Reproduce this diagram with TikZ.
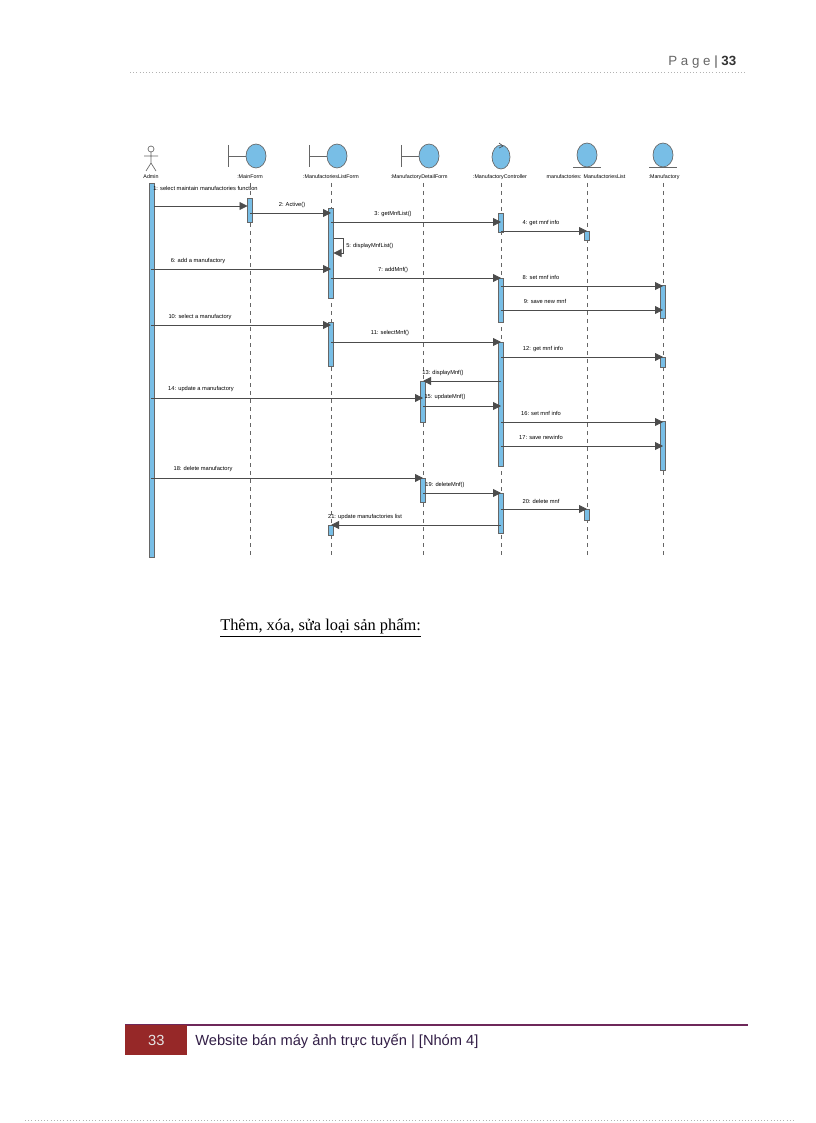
\documentclass[tikz,border=0pt]{standalone}
\usepackage{fontspec}
\setmainfont{Liberation Sans}
\newfontfamily\serif{Liberation Serif}
\usetikzlibrary{arrows.meta}
\definecolor{act}{RGB}{120,190,230}
\definecolor{foot}{RGB}{150,40,40}
\definecolor{fline}{RGB}{110,40,90}
\definecolor{ftext}{RGB}{50,30,70}
\tikzset{
 msg/.style={draw=black!70,line width=0.6pt,-{Triangle[length=6pt,width=6pt]}},
 lbl/.style={font=\fontsize{4.3pt}{5pt}\selectfont,inner sep=0pt,anchor=south},
 actbar/.style={draw=black!60,fill=act,line width=0.4pt},
 life/.style={draw=black!60,dashed,line width=0.5pt},
 headc/.style={draw=black!60,fill=act,line width=0.5pt},
 hname/.style={font=\fontsize{4pt}{5pt}\selectfont,inner sep=0pt}
}
\begin{document}
\begin{tikzpicture}[x=0.75pt,y=-0.75pt]
\useasboundingbox (0,0) rectangle (816,1123);
% header
\node[anchor=east,font=\fontsize{10pt}{12pt}\selectfont,text=black!60] (pg) at (741,62) {P a g e \textcolor{black!70}{|} \textbf{\textcolor{black!80}{33}}};
\draw[black!30,dotted] (130,72) -- (745,72);
% lifelines
\foreach \n/\x in {mf/250,lf/331,df/423,ct/501,ml/587,ma/663}{
 \coordinate (\n top) at (\x,183); \coordinate (\n bot) at (\x,557);
 \draw[life] (\n top) -- (\n bot);}
% heads
\draw[black!60,line width=0.5pt] (151,149) circle (3);
\draw[black!60,line width=0.5pt] (151,152)--(151,163) (144,156)--(158,156) (151,163)--(146,171) (151,163)--(156,171);
\foreach \x in {250,331,423}{
 \draw[black!60,line width=0.5pt] (\x-22,145)--(\x-22,167) (\x-22,156)--(\x-4,156);
 \draw[headc] (\x+6,156) ellipse (10 and 12);}
\draw[headc] (501,157) ellipse (9 and 12);
\draw[black!70,line width=0.5pt] (499,143)--(503,146)--(499,148);
\foreach \x in {587,663}{
 \draw[headc] (\x,155) ellipse (10 and 12);
 \draw[black!60,line width=0.5pt] (\x-14,167)--(\x+14,167);}
\node[hname] (nadm) at (151,177) {Admin};
\node[hname] (nmf) at (250,177) {:MainForm};
\node[hname] (nlf) at (331,177) {:ManufactoriesListForm};
\node[hname] (ndf) at (419,177) {:ManufactoryDetailForm};
\node[hname] (nct) at (500,177) {:ManufactoryController};
\node[hname] (nml) at (586,177) {manufactories: ManufactoriesList};
\node[hname] (nma) at (664,177) {:Manufactory};
% activations
\draw[actbar] (149,183) rectangle (154,557);
\foreach \x/\a/\b in {250/198/222,331/208/298,331/322/366,331/525/535,501/213/232,501/278/322,501/342/466,501/493/533,587/231/240,587/509/520,663/285/318,663/357/367,663/421/470,423/381/422,423/478/502}{
 \draw[actbar] (\x-2.5,\a) rectangle (\x+2.5,\b);}
% messages
\foreach \i/\a/\b/\y in {2/250/331/213,3/331/501/222,4/501/587/231,6/151/331/269,7/331/501/278,8/501/663/286,9/501/663/310,10/151/331/325,11/331/501/342,12/501/663/357,13/501/423/381,14/151/423/398,15/423/501/406,16/501/663/422,17/501/663/446,18/151/423/478,19/423/501/493,20/501/587/509,21/501/331/525}{
 \coordinate (s\i) at (\a,\y); \coordinate (e\i) at (\b,\y);
 \draw[msg] (s\i) -- (e\i);}
\coordinate (s1) at (154,206); \coordinate (e1) at (247.5,206);
\draw[msg] (s1) -- (e1);
\node[lbl,anchor=south west] (l1) at (153,191) {1: select maintain manufactories function};
\node[lbl] (l2) at (292,208) {2: Active()};
\node[lbl] (l3) at (393,217) {3: getMnfList()};
\node[lbl] (l4) at (541,226) {4: get mnf info};
\node[lbl] (l6) at (198,264) {6: add a manufactory};
\node[lbl] (l7) at (393,273) {7: addMnf()};
\node[lbl] (l8) at (541,280) {8: set mnf info};
\node[lbl] (l9) at (545,304) {9: save new mnf};
\node[lbl] (l10) at (200,320) {10: select a manufactory};
\node[lbl] (l11) at (390,336) {11: selectMnf()};
\node[lbl] (l12) at (543,352) {12: get mnf info};
\node[lbl] (l13) at (443,376) {13: displayMnf()};
\node[lbl] (l14) at (201,392) {14: update a manufactory};
\node[lbl] (l15) at (445,400) {15: updateMnf()};
\node[lbl] (l16) at (541,416) {16: set mnf info};
\node[lbl] (l17) at (541,440) {17: save newinfo};
\node[lbl] (l18) at (203,472) {18: delete manufactory};
\node[lbl] (l19) at (445,488) {19: deleteMnf()};
\node[lbl] (l20) at (541,504) {20: delete mnf};
\node[lbl] (l21) at (365,520) {21: update manufactories list};
% self message 5
\coordinate (s5) at (333.5,238); \coordinate (c5a) at (343,238); \coordinate (c5b) at (343,253); \coordinate (e5) at (333.5,253);
\draw[msg] (s5) -- (c5a) -- (c5b) -- (e5);
\node[lbl,anchor=west] (l5) at (346,246) {5: displayMnfList()};
% caption
\node[anchor=west,font=\serif\fontsize{12.3pt}{14pt}\selectfont,inner sep=0pt] (cap) at (220,628) {\underline{Thêm, xóa, sửa loại sản phẩm:}};
% footer
\draw[fline,line width=0.8pt] (125,1025) -- (748,1025);
\node[fill=foot,minimum width=62*0.75pt,minimum height=30*0.75pt,anchor=north west,inner sep=0pt,text=white!90!black,font=\fontsize{11pt}{13pt}\selectfont] (fbox) at (125,1025) {33};
\node[anchor=west,font=\fontsize{11pt}{13pt}\selectfont,text=ftext,inner sep=0pt] (ftxt) at (195,1041) {Website bán máy ảnh trực tuyến | [Nhóm 4]};
\draw[black!30,dotted] (25,1120) -- (795,1120);
\end{tikzpicture}
\end{document}
